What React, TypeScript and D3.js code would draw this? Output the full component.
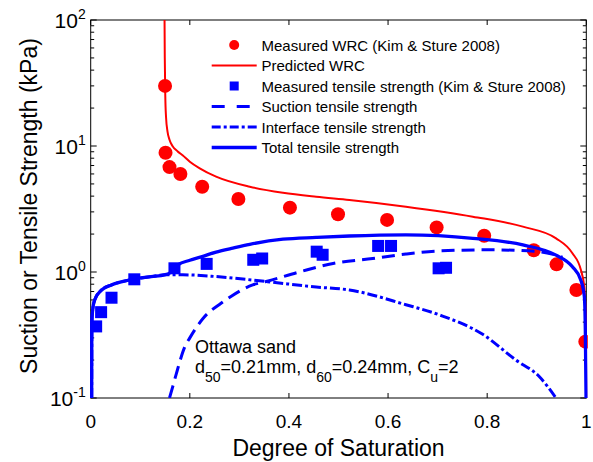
import React from 'react';
import * as d3 from 'd3';

// ---------- data ----------
const xTickValues = [0, 0.2, 0.4, 0.6, 0.8, 1];
const xTickLabels = ['0', '0.2', '0.4', '0.6', '0.8', '1'];
const yDecades = [0.1, 1, 10, 100];
const yExponents = ['-1', '0', '1', '2'];

const wrcMeasS = [0.15, 0.151, 0.159, 0.181, 0.225, 0.298, 0.402, 0.499, 0.598, 0.698, 0.794, 0.894, 0.94, 0.98, 0.998];
const wrcMeasV = [30, 8.85, 6.8, 6.0, 4.75, 3.8, 3.24, 2.87, 2.59, 2.26, 1.94, 1.49, 1.15, 0.72, 0.28];

const wrcPredS = [0.149, 0.1495, 0.1505, 0.152, 0.155, 0.159, 0.165, 0.175, 0.186, 0.2, 0.22, 0.253, 0.321, 0.388, 0.455, 0.522, 0.636, 0.771, 0.872, 0.939, 0.972, 0.989, 0.996, 0.999, 0.9999];
const wrcPredV = [100, 50, 25, 17, 13, 11.2, 10, 9.1, 8.4, 7.5, 6.65, 5.71, 4.75, 4.26, 3.96, 3.73, 3.3, 2.75, 2.29, 1.85, 1.41, 1.04, 0.76, 0.4, 0.1];

const tsMeasS = [0.011, 0.021, 0.042, 0.088, 0.169, 0.234, 0.328, 0.346, 0.456, 0.468, 0.58, 0.606, 0.702, 0.717];
const tsMeasV = [0.37, 0.48, 0.625, 0.875, 1.07, 1.16, 1.25, 1.28, 1.45, 1.37, 1.61, 1.61, 1.07, 1.08];

const suctionS = [0.159, 0.166, 0.173, 0.19, 0.2, 0.227, 0.263, 0.283, 0.327, 0.354, 0.421, 0.489, 0.569, 0.636, 0.704, 0.804, 0.905, 0.952];
const suctionV = [0.1, 0.125, 0.157, 0.255, 0.3, 0.43, 0.565, 0.64, 0.79, 0.84, 1.0, 1.17, 1.28, 1.39, 1.47, 1.5, 1.45, 1.31];

const interfaceS = [0.002, 0.0022, 0.0026, 0.004, 0.008, 0.022, 0.042, 0.076, 0.122, 0.149, 0.186, 0.253, 0.354, 0.455, 0.522, 0.636, 0.704, 0.791, 0.858, 0.905, 0.939];
const interfaceV = [0.1, 0.3, 0.42, 0.5, 0.6, 0.72, 0.79, 0.86, 0.92, 0.95, 0.95, 0.92, 0.84, 0.76, 0.72, 0.55, 0.456, 0.32, 0.2, 0.148, 0.1];

const totalS = [0.002, 0.0022, 0.0026, 0.004, 0.008, 0.022, 0.042, 0.076, 0.122, 0.149, 0.159, 0.176, 0.2, 0.223, 0.253, 0.284, 0.321, 0.388, 0.455, 0.522, 0.636, 0.771, 0.872, 0.939, 0.972, 0.989, 0.996, 0.998, 0.9995];
const totalV = [0.1, 0.3, 0.42, 0.5, 0.6, 0.72, 0.79, 0.86, 0.92, 0.95, 0.98, 1.14, 1.24, 1.32, 1.44, 1.54, 1.66, 1.82, 1.88, 1.93, 1.97, 1.85, 1.64, 1.36, 1.1, 0.86, 0.64, 0.35, 0.1];

const legendLabels = [
  'Measured WRC (Kim & Sture 2008)',
  'Predicted WRC',
  'Measured tensile strength (Kim & Sture 2008)',
  'Suction tensile strength',
  'Interface tensile strength',
  'Total tensile strength',
];

// ---------- layout ----------
const W = 593;
const H = 462;
const L = 90.7;
const R = 586.3;
const T = 20;
const B = 398;
const FONT = 'Arial, "Liberation Sans", Helvetica, sans-serif';
const RED = '#ff0000';
const BLUE = '#0000ff';

export default function App() {
  const x = d3.scaleLinear().domain([0, 1]).range([L, R]);
  const y = d3.scaleLog().domain([0.1, 100]).range([B, T]);

  const pts = (s: number[], v: number[]) => s.map((d, i) => [d, v[i]] as [number, number]);
  const line = d3
    .line<[number, number]>()
    .x((d) => x(d[0]))
    .y((d) => y(d[1]))
    .curve(d3.curveMonotoneX);

  const minorTicks: number[] = [];
  [0.1, 1, 10].forEach((dec) => {
    for (let m = 2; m <= 9; m++) minorTicks.push(m * dec);
  });

  const legendX0 = 211.7;
  const legendX1 = 256.7;
  const legendTextX = 261.5;
  const legendY = (i: number) => 45 + i * 20.5;

  const sq = 12;
  const lsq = 9;

  return (
    <svg
      width={W}
      height={H}
      style={{ position: 'absolute', left: 0, top: 0, background: '#fff' }}
      fontFamily={FONT}
    >
      <defs>
        <clipPath id="plotClip">
          <rect x={L - 1.5} y={T} width={R - L + 3} height={B - T} />
        </clipPath>
      </defs>
      <rect x={0} y={0} width={W} height={H} fill="#fff" />

      {/* frame */}
      <rect x={L} y={T} width={R - L} height={B - T} fill="none" stroke="#000" strokeWidth={1} />

      {/* x ticks */}
      {xTickValues.map((v, i) => (
        <g key={'xt' + i}>
          <line x1={x(v)} x2={x(v)} y1={B} y2={B - 5} stroke="#000" />
          <line x1={x(v)} x2={x(v)} y1={T} y2={T + 5} stroke="#000" />
          <text x={x(v)} y={428} textAnchor="middle" fontSize={19} fill="#000">
            {xTickLabels[i]}
          </text>
        </g>
      ))}

      {/* y ticks */}
      {yDecades.map((v, i) => (
        <g key={'yt' + i}>
          <line x1={L} x2={L + 6} y1={y(v)} y2={y(v)} stroke="#000" />
          <line x1={R} x2={R - 6} y1={y(v)} y2={y(v)} stroke="#000" />
          <text x={L - 5} y={y(v) + 8} textAnchor="end" fontSize={21} fill="#000">
            10
            <tspan fontSize={14} dy={-9}>
              {yExponents[i]}
            </tspan>
          </text>
        </g>
      ))}
      {minorTicks.map((v, i) => (
        <g key={'ym' + i}>
          <line x1={L} x2={L + 3.5} y1={y(v)} y2={y(v)} stroke="#000" />
          <line x1={R} x2={R - 3.5} y1={y(v)} y2={y(v)} stroke="#000" />
        </g>
      ))}

      {/* axis titles */}
      <text x={(L + R) / 2} y={456} textAnchor="middle" fontSize={23} fill="#000">
        Degree of Saturation
      </text>
      <text
        transform={`translate(37,${(T + B) / 2 - 3}) rotate(-90)`}
        textAnchor="middle"
        fontSize={23}
        fill="#000"
      >
        Suction or Tensile Strength (kPa)
      </text>

      {/* data */}
      <g clipPath="url(#plotClip)">
        {pts(wrcMeasS, wrcMeasV).map((d, i) => (
          <circle key={'wm' + i} cx={x(d[0])} cy={y(d[1])} r={7} fill={RED} />
        ))}
        <path d={line(pts(wrcPredS, wrcPredV)) || ''} fill="none" stroke={RED} strokeWidth={2} />
        {pts(tsMeasS, tsMeasV).map((d, i) => (
          <rect key={'tm' + i} x={x(d[0]) - sq / 2} y={y(d[1]) - sq / 2} width={sq} height={sq} fill={BLUE} />
        ))}
        <path
          d={line(pts(suctionS, suctionV)) || ''}
          fill="none"
          stroke={BLUE}
          strokeWidth={3}
          strokeDasharray="13,7"
        />
        <path
          d={line(pts(interfaceS, interfaceV)) || ''}
          fill="none"
          stroke={BLUE}
          strokeWidth={3}
          strokeDasharray="10,3,3,3"
        />
        <path d={line(pts(totalS, totalV)) || ''} fill="none" stroke={BLUE} strokeWidth={3.3} />
      </g>

      {/* annotation */}
      <text x={195} y={353} fontSize={18} fill="#000">
        Ottawa sand
      </text>
      <text x={195} y={373} fontSize={18} fill="#000">
        d
        <tspan fontSize={14} dy={9}>50</tspan>
        <tspan dy={-9}>=0.21mm, d</tspan>
        <tspan fontSize={14} dy={9}>60</tspan>
        <tspan dy={-9}>=0.24mm, C</tspan>
        <tspan fontSize={14} dy={9}>u</tspan>
        <tspan dy={-9}>=2</tspan>
      </text>

      {/* legend */}
      <g>
        <circle cx={(legendX0 + legendX1) / 2} cy={legendY(0)} r={5} fill={RED} />
        <line x1={legendX0} x2={legendX1} y1={legendY(1)} y2={legendY(1)} stroke={RED} strokeWidth={2} />
        <rect
          x={(legendX0 + legendX1) / 2 - lsq / 2}
          y={legendY(2) - lsq / 2}
          width={lsq}
          height={lsq}
          fill={BLUE}
        />
        <line
          x1={legendX0}
          x2={legendX1}
          y1={legendY(3)}
          y2={legendY(3)}
          stroke={BLUE}
          strokeWidth={3}
          strokeDasharray="13,12"
        />
        <line
          x1={legendX0}
          x2={legendX1}
          y1={legendY(4)}
          y2={legendY(4)}
          stroke={BLUE}
          strokeWidth={3}
          strokeDasharray="9,3,3,3"
        />
        <line x1={legendX0} x2={legendX1} y1={legendY(5)} y2={legendY(5)} stroke={BLUE} strokeWidth={3.3} />
        {legendLabels.map((t, i) => (
          <text key={'lg' + i} x={legendTextX} y={legendY(i) + 5.5} fontSize={15} fill="#000">
            {t}
          </text>
        ))}
      </g>
    </svg>
  );
}
